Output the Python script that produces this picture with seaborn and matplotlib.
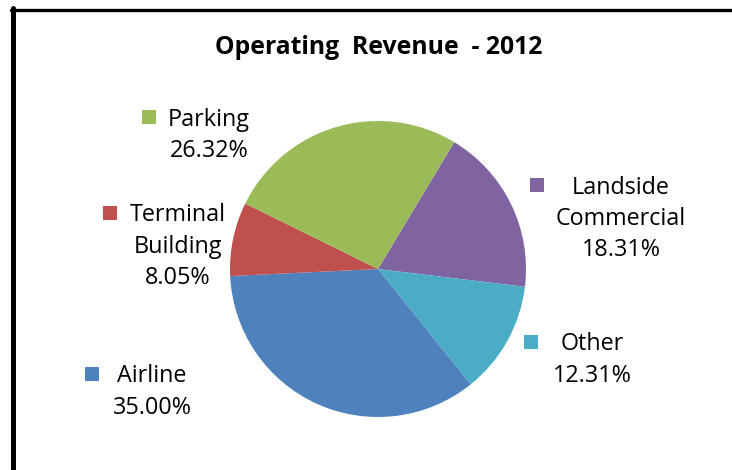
import matplotlib
matplotlib.use("Agg")
import matplotlib.pyplot as plt
from matplotlib.patches import Rectangle
from matplotlib.lines import Line2D
import seaborn as sns

# data, in clockwise drawing order starting from the Landside slice
segments = ["Landside\nCommercial", "Other", "Airline", "Terminal\nBuilding", "Parking"]
shares = [18.31, 12.31, 35.00, 8.05, 26.32]
colors = ["#8064A2", "#4BACC6", "#4F81BD", "#C0504D", "#9BBB59"]
title = "Operating  Revenue  - 2012"

sns.set_theme(style="white")
plt.rcParams["font.family"] = ["Open Sans", "DejaVu Sans"]

W, H = 732, 470
fig = plt.figure(figsize=(W / 100, H / 100), dpi=100)


def fx(px):
    return px / W


def fy(py):
    return 1 - py / H


# pie axes: centre (378, 269) px, radius 148 px
cx, cy, r = 378, 269, 148
ax = fig.add_axes([fx(cx - r), fy(cy + r), 2 * r / W, 2 * r / H])
ax.pie(shares, colors=colors, startangle=59, counterclock=False,
       wedgeprops=dict(linewidth=0))
ax.set_xlim(-1, 1)
ax.set_ylim(-1, 1)
ax.axis("off")

fig.text(fx(379), fy(47), title, ha="center", va="center",
         fontsize=17.8, fontweight="bold", color="#000000")

# label layout: (text centre x, first line centre y, key x) in pixels
label_pos = [(621, 186, 537), (592, 343, 531), (152, 375, 92),
             (178, 214, 110), (209, 118, 149)]
line_h = 31.5
for name, pct, col, (tx, ty, kx) in zip(segments, shares, colors, label_pos):
    lines = name.split("\n") + [f"{pct:.2f}%"]
    for i, ln in enumerate(lines):
        fig.text(fx(tx), fy(ty + 1.5 + i * line_h), ln, ha="center", va="center",
                 fontsize=16.8, color="#000000")
    s = 14
    fig.add_artist(Rectangle((fx(kx - s / 2), fy(ty + s / 2 - 1)), s / W, s / H,
                             transform=fig.transFigure, facecolor=col,
                             edgecolor="none"))

# chart frame (left and top edges visible)
fig.add_artist(Line2D([fx(12.5), fx(12.5)], [fy(8), fy(H + 5)],
                      transform=fig.transFigure, color="black", linewidth=3.6))
fig.add_artist(Line2D([fx(11), fx(W + 5)], [fy(9.5), fy(9.5)],
                      transform=fig.transFigure, color="black", linewidth=2.4))

fig.savefig("out.png", dpi=100, facecolor="white")
